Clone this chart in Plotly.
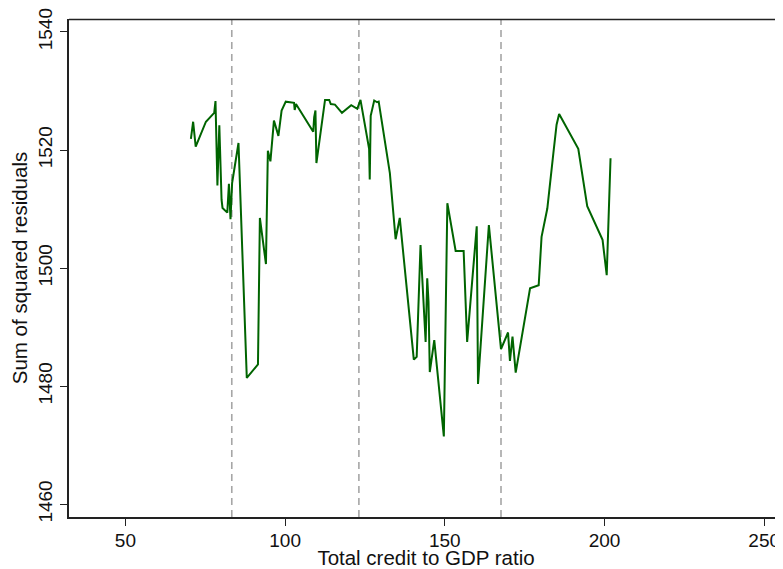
import plotly.graph_objects as go

credit_ratio = [70.5, 71.2, 72.0, 75.2, 77.8, 78.2, 78.8, 79.4, 80.1, 80.4, 81.9, 82.4, 82.9, 83.4,
                85.4, 88.0, 91.5, 92.1, 94.0, 94.6, 95.4, 96.5, 97.9, 98.9, 100.2, 102.8, 103.0,
                103.4, 108.8, 109.1, 109.5, 109.8, 112.5, 113.8, 114.3, 115.6, 117.8, 120.7, 122.6,
                123.6, 126.3, 126.5, 126.8, 127.9, 128.8, 129.3, 132.8, 134.6, 135.9, 140.3, 141.2,
                142.4, 144.0, 144.5, 144.9, 145.3, 146.7, 149.7, 150.8, 153.4, 155.9, 157.0, 160.0,
                160.4, 163.8, 167.6, 169.8, 170.4, 171.2, 172.2, 176.7, 179.4, 180.3, 182.1, 184.0,
                185.0, 185.8, 191.8, 194.6, 199.4, 200.7, 201.9]
ssr = [1521.9, 1524.8, 1520.6, 1524.8, 1526.3, 1528.3, 1514.0, 1524.2, 1511.6, 1510.2, 1509.4,
       1514.3, 1508.3, 1514.4, 1521.2, 1481.4, 1483.7, 1508.5, 1500.7, 1519.9, 1518.1, 1525.0,
       1522.4, 1526.7, 1528.2, 1528.0, 1526.8, 1527.8, 1523.1, 1525.6, 1526.7, 1517.8, 1528.5,
       1528.5, 1527.8, 1527.7, 1526.3, 1527.6, 1527.0, 1528.5, 1520.2, 1515.0, 1525.8, 1528.4,
       1528.1, 1528.2, 1516.1, 1504.9, 1508.5, 1484.5, 1485.0, 1503.9, 1487.5, 1498.3, 1494.3,
       1482.4, 1487.8, 1471.5, 1511.0, 1502.9, 1502.9, 1487.5, 1507.1, 1480.4, 1507.3, 1486.3,
       1489.1, 1484.3, 1488.4, 1482.3, 1496.6, 1497.1, 1505.3, 1510.1, 1519.5, 1524.3, 1526.1,
       1520.2, 1510.5, 1504.8, 1498.8, 1518.6]

thresholds = [83.3, 123.1, 167.6]
x_ticks = [50, 100, 150, 200, 250]
y_ticks = [1460, 1480, 1500, 1520, 1540]

FONT = "Liberation Sans, Arial, sans-serif"

fig = go.Figure()
fig.add_trace(go.Scatter(x=credit_ratio, y=ssr, mode="lines",
                         line=dict(color="#006400", width=2), showlegend=False))

for t in thresholds:
    fig.add_shape(type="line", xref="x", yref="paper", x0=t, x1=t, y0=0, y1=1,
                  line=dict(color="#a6a6a6", width=1.6, dash="7px,5px"), layer="below")

fig.add_shape(type="line", xref="paper", yref="paper", x0=0, x1=1, y0=0.999, y1=0.999,
              line=dict(color="#222222", width=1.5), layer="above")

fig.update_layout(
    width=775, height=561,
    margin=dict(l=61, r=0, t=11, b=52),
    plot_bgcolor="white", paper_bgcolor="white",
    font=dict(family=FONT, size=19, color="#111111"),
    xaxis=dict(range=[32.33, 255.9], tickvals=x_ticks, ticks="outside", ticklen=7,
               tickwidth=1, tickcolor="#222222", showline=True, linewidth=2,
               linecolor="#222222", showgrid=False, zeroline=False, automargin=False,
               ticklabelstandoff=-2, ticklabeloverflow="allow",
               title=dict(text="Total credit to GDP ratio", font=dict(size=20.5), standoff=2),
               tickfont=dict(size=19)),
    yaxis=dict(range=[1457.85, 1542.2], tickvals=y_ticks, ticks="outside", ticklen=7,
               tickwidth=1, tickcolor="#222222", showline=True, linewidth=2,
               linecolor="#222222", showgrid=False, zeroline=False, tickangle=-90,
               automargin=False, ticklabeloverflow="allow",
               title=dict(text="Sum of squared residuals", font=dict(size=20.5), standoff=2),
               tickfont=dict(size=19)),
)

fig.write_html("out.html")
